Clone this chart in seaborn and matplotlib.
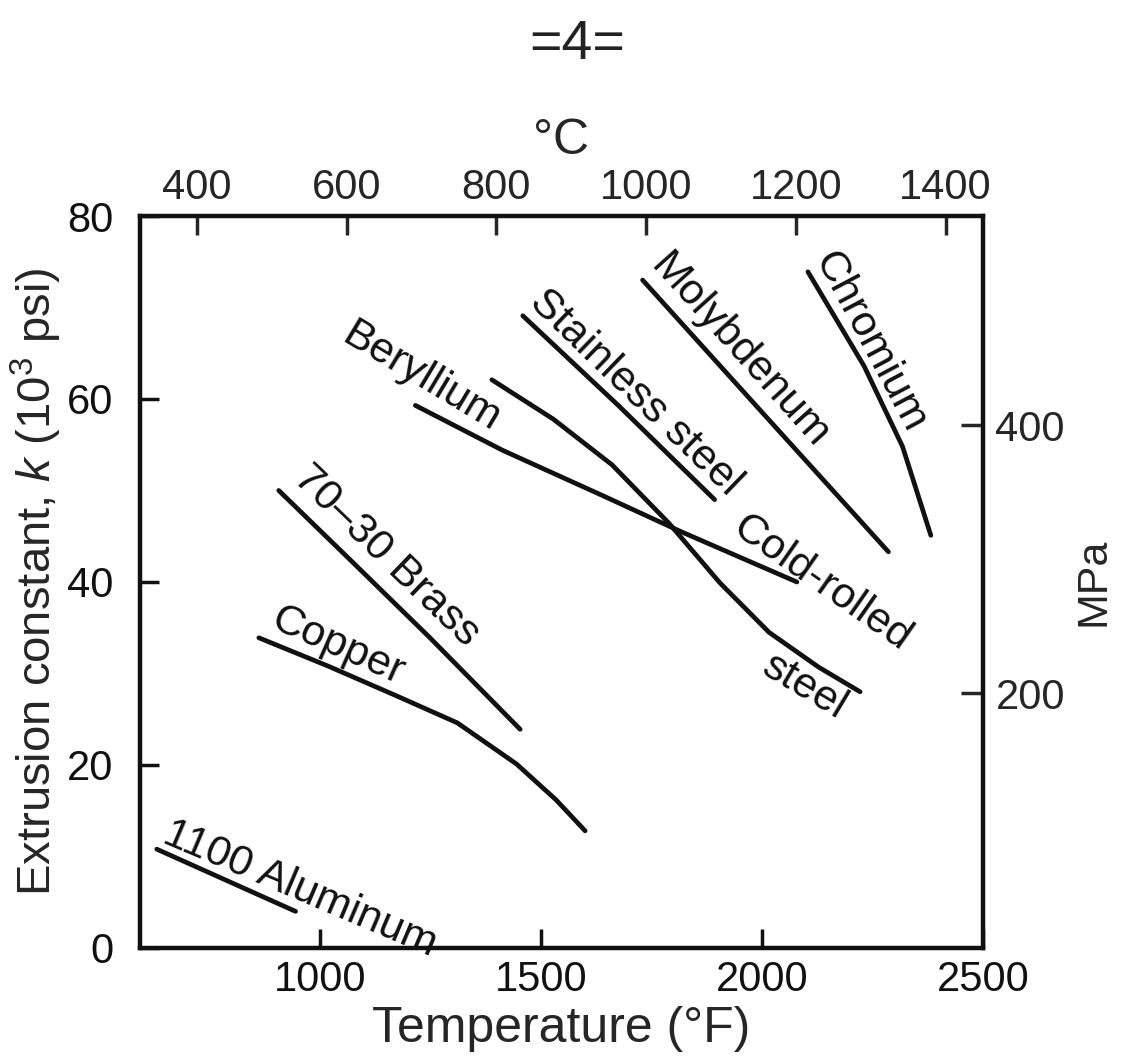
import numpy as np
import pandas as pd
import matplotlib
matplotlib.use('Agg')
import matplotlib.pyplot as plt
import seaborn as sns

# Extrusion constant k (10^3 psi) against temperature (deg F)
aluminum_T = [631, 945]
aluminum_k = [10.8, 4.0]
copper_T = [862, 1019, 1176, 1311, 1445, 1534, 1600]
copper_k = [33.9, 30.8, 27.5, 24.6, 20.1, 16.2, 12.8]
brass_T = [907, 1069, 1247, 1453]
brass_k = [50.0, 42.4, 34.0, 23.9]
beryllium_T = [1216, 1413, 1637, 1817, 2079]
beryllium_k = [59.3, 54.4, 49.5, 45.5, 40.0]
cold_rolled_T = [1389, 1528, 1661, 1790, 1905, 2016, 2128, 2222]
cold_rolled_k = [62.1, 57.8, 52.8, 46.4, 39.9, 34.5, 30.7, 28.0]
stainless_T = [1459, 1675, 1893]
stainless_k = [69.1, 59.3, 49.0]
molybdenum_T = [1730, 2003, 2286]
molybdenum_k = [73.0, 58.4, 43.3]
chromium_T = [2104, 2231, 2318, 2382]
chromium_k = [73.9, 63.6, 54.8, 45.1]

# axis ticks
x_ticks_F = [1000, 1500, 2000, 2500]
y_ticks_k = [0, 20, 40, 60, 80]
top_ticks_C = [400, 600, 800, 1000, 1200, 1400]
right_ticks_MPa = [200, 400]

# curve labels: text, anchor T, anchor k, rotation
curve_labels = [
    ('1100 Aluminum', 640, 11.6, -23),
    ('Copper', 885, 35.0, -24),
    ('70\u201330 Brass', 936, 51.2, -44),
    ('Beryllium', 1045, 66.3, -31),
    ('Stainless steel', 1470, 70.4, -44),
    ('Molybdenum', 1745, 74.4, -48),
    ('Chromium', 2118, 75.2, -62),
    ('Cold-rolled', 1930, 45.3, -35),
    ('steel', 1996, 30.0, -31),
]

series = [
    ('aluminum', aluminum_T, aluminum_k),
    ('copper', copper_T, copper_k),
    ('brass', brass_T, brass_k),
    ('beryllium', beryllium_T, beryllium_k),
    ('cold_rolled', cold_rolled_T, cold_rolled_k),
    ('stainless', stainless_T, stainless_k),
    ('molybdenum', molybdenum_T, molybdenum_k),
    ('chromium', chromium_T, chromium_k),
]
df = pd.concat([pd.DataFrame({'material': name, 'T': t, 'k': k})
                for name, t, k in series], ignore_index=True)

sns.set_style('ticks')
plt.rcParams['font.family'] = ['Liberation Sans', 'DejaVu Sans']
plt.rcParams['mathtext.fontset'] = 'custom'
plt.rcParams['mathtext.it'] = 'Liberation Sans:italic'
plt.rcParams['mathtext.rm'] = 'Liberation Sans'

fig = plt.figure(figsize=(11.26, 10.63), dpi=100)
ax = fig.add_axes([0.1243, 0.1082, 0.7487, 0.6886])

sns.lineplot(data=df, x='T', y='k', units='material', estimator=None,
             sort=False, color='#111111', linewidth=3.4, legend=False, ax=ax)

for text, t, k, rot in curve_labels:
    ax.text(t, k, text, fontsize=31, rotation=rot, rotation_mode='anchor',
            ha='left', va='baseline', color='#111111')

ax.set_xlim(593, 2500)
ax.set_ylim(0, 80)
ax.set_xticks(x_ticks_F)
ax.set_yticks(y_ticks_k)
ax.tick_params(axis='both', direction='in', length=14, width=2.5,
               labelsize=30, colors='#111111')
ax.tick_params(axis='x', pad=9)
ax.tick_params(axis='y', pad=19)
ax.set_xlabel('Temperature (\u00b0F)', fontsize=36, labelpad=4)
ax.set_ylabel('Extrusion constant, $k$ (10$^3$ psi)', fontsize=34, labelpad=2)

# top axis in deg C, right axis in MPa
ax_top = ax.twiny()
ax_top.set_xlim(324, 1450)
ax_top.set_xticks(top_ticks_C)
ax_top.tick_params(axis='x', direction='in', length=14, width=2.5,
                   labelsize=30, pad=6)
ax_top.set_xlabel('\u00b0C', fontsize=36, labelpad=10)

ax_right = ax.twinx()
ax_right.set_ylim(10, 556)
ax_right.set_yticks(right_ticks_MPa)
ax_right.tick_params(axis='y', direction='in', length=16, width=2.5,
                     labelsize=30, pad=9)
ax_right.set_ylabel('MPa', fontsize=31, labelpad=6)

for a in (ax, ax_top, ax_right):
    for s in a.spines.values():
        s.set_linewidth(3)
        s.set_color('#111111')

fig.text(0.513, 0.958, '=4=', fontsize=40, ha='center', va='center',
         color='#222222')

fig.savefig('out.png', dpi=100)
plt.close(fig)
